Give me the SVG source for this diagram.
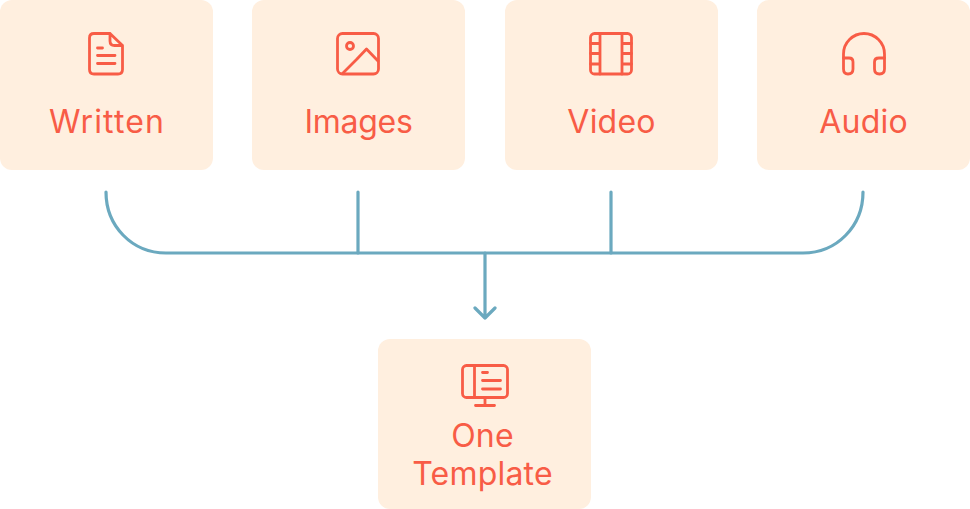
<svg xmlns="http://www.w3.org/2000/svg" width="970" height="509" viewBox="0 0 970 509">
<style>
.box{fill:#FFEFDF}
.ic{fill:none;stroke:#F85C46;stroke-width:2.800;stroke-linecap:round;stroke-linejoin:round}
.lb{font-family:"Inter","Lato",sans-serif;font-size:32px;font-weight:400;letter-spacing:0.2px;fill:#F85C46;text-anchor:middle}
.wide{letter-spacing:1.1px}
.tight{letter-spacing:-0.3px}
.cn{fill:none;stroke:#6BA9BF;stroke-width:3.200;stroke-linecap:round;stroke-linejoin:round}
</style>
<rect width="970" height="509" fill="#fff"/>
<g id="connectors">
<path class="cn" d="M106 192C106 226 132 253 166 253H803C837 253 863 226 863 192"/>
<path class="cn" d="M358 192V253M611 192V253M485 253V318M475 308L485 318L495 308"/>
</g>
<g id="written">
<rect class="box" x="0" y="0" width="213" height="170" rx="12"/>
<path class="ic" d="M94 33.500H110L122.500 45.500V69.500Q122.500 74 118 74H94Q89.500 74 89.500 69.500V38Q89.500 33.500 94 33.500ZM110 33.500V41Q110 45.500 114.500 45.500H122.500M97.500 48H102.500M97.500 55.500H115M97.500 63.500H115"/>
<text class="lb wide" x="107" y="132.500">Written</text>
</g>
<g id="images">
<rect class="box" x="252" y="0" width="213" height="170" rx="12"/>
<rect class="ic" x="337.500" y="33.500" width="41" height="40.500" rx="5"/>
<circle class="ic" cx="350" cy="46" r="3.500"/>
<path class="ic" d="M343 73L357 59L366.500 49L378 61"/>
<text class="lb tight" x="358.500" y="132.500">Images</text>
</g>
<g id="video">
<rect class="box" x="505" y="0" width="213" height="170" rx="12"/>
<rect class="ic" x="590.500" y="33.500" width="41" height="40.500" rx="4"/>
<path class="ic" d="M600 33.500V74M622 33.500V74M590.500 43.500H600M590.500 53.500H600M590.500 64H600M622 43.500H631.500M622 53.500H631.500M622 64H631.500"/>
<text class="lb" x="611.500" y="132.500">Video</text>
</g>
<g id="audio">
<rect class="box" x="757" y="0" width="213" height="170" rx="12"/>
<path class="ic" d="M843.500 58V54A20.500 20.500 0 0 1 884.500 54V58"/>
<path class="ic" d="M843.500 58H849Q853 58 853 62V69Q853 74 848 74Q843.500 74 843.500 69ZM884.500 58H879Q874.500 58 874.500 62V69Q874.500 74 879.500 74Q884.500 74 884.500 69Z"/>
<text class="lb" x="863.500" y="132.500">Audio</text>
</g>
<g id="template">
<rect class="box" x="378" y="339" width="213" height="170" rx="12"/>
<rect class="ic" x="462.500" y="365.500" width="45" height="32" rx="4"/>
<path class="ic" d="M474.500 365.500V397.500M482.500 372.500H487.500M482.500 380.500H500.500M482.500 389H500.500M485 397.500V405.500M475.500 405.500H494.500"/>
<text class="lb" x="482.500" y="446.500">One</text>
<text class="lb" x="482.500" y="484.500">Template</text>
</g>
</svg>
